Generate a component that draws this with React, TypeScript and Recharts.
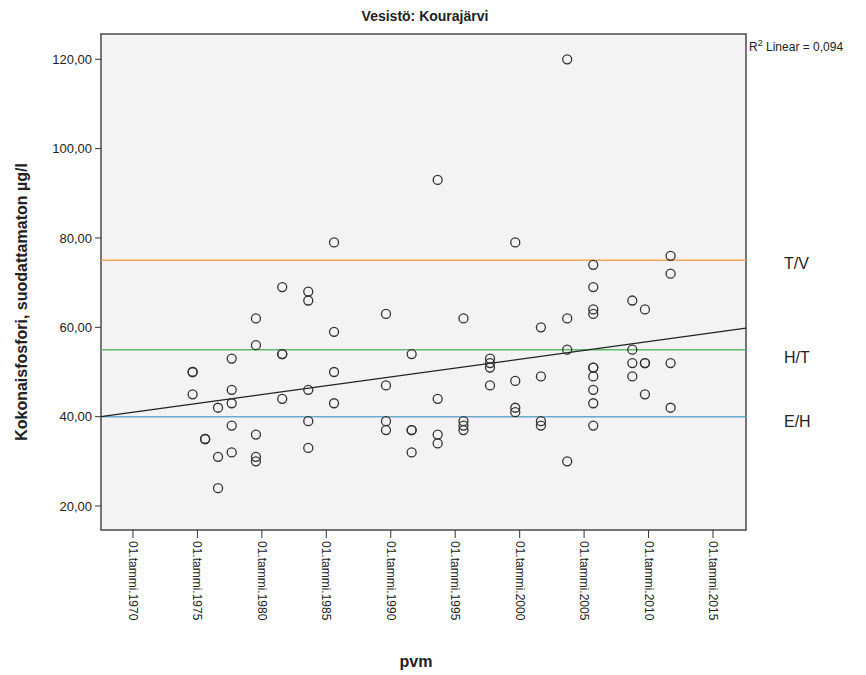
import {
  ScatterChart, Scatter, XAxis, YAxis, CartesianGrid, ReferenceLine, ReferenceArea, Label,
} from 'recharts'

const FONT = '"Liberation Sans", Arial, sans-serif'

// näytteenottovuosi (desimaalivuosi) ja kokonaisfosfori µg/l, luettu kuvasta
const sampleYear = [
  1974.63, 1974.63, 1974.63,
  1975.6, 1975.6,
  1976.6, 1976.6, 1976.6,
  1977.66, 1977.66, 1977.66, 1977.66, 1977.66,
  1979.54, 1979.54, 1979.54, 1979.54, 1979.54,
  1981.58, 1981.58, 1981.58, 1981.58,
  1983.6, 1983.6, 1983.6, 1983.6, 1983.6,
  1985.6, 1985.6, 1985.6, 1985.6,
  1989.63, 1989.63, 1989.63, 1989.63,
  1991.62, 1991.62, 1991.62, 1991.62,
  1993.64, 1993.64, 1993.64, 1993.64,
  1995.64, 1995.64, 1995.64, 1995.64,
  1997.7, 1997.7, 1997.7, 1997.7,
  1999.66, 1999.66, 1999.66, 1999.66,
  2001.65, 2001.65, 2001.65, 2001.65,
  2003.69, 2003.69, 2003.69, 2003.69,
  2005.71, 2005.71, 2005.71, 2005.71, 2005.71, 2005.71, 2005.71, 2005.71, 2005.71, 2005.71,
  2008.74, 2008.74, 2008.74, 2008.74,
  2009.72, 2009.72, 2009.72, 2009.72,
  2011.71, 2011.71, 2011.71, 2011.71,
]
const phosphorus = [
  50, 50, 45,
  35, 35,
  42, 31, 24,
  53, 46, 43, 38, 32,
  62, 56, 36, 31, 30,
  69, 54, 54, 44,
  68, 66, 46, 39, 33,
  79, 59, 50, 43,
  63, 47, 39, 37,
  54, 37, 37, 32,
  93, 44, 36, 34,
  62, 39, 38, 37,
  53, 52, 51, 47,
  79, 48, 42, 41,
  60, 49, 39, 38,
  120, 62, 55, 30,
  74, 69, 64, 63, 51, 51, 49, 46, 43, 38,
  66, 55, 52, 49,
  64, 52, 52, 45,
  76, 72, 52, 42,
]

// lineaarinen sovite (päätepisteet kuvasta)
const fitYear = [1967.52, 2017.56]
const fitValue = [40.0, 59.8]

// luokkarajat
const limitValue = [75, 55, 40]
const limitLabel = ['T/V', 'H/T', 'E/H']

const xTicks = [1970, 1975, 1980, 1985, 1990, 1995, 2000, 2005, 2010, 2015]
const yTicks = [20, 40, 60, 80, 100, 120]
const xDomain = [1967.52, 2017.56]
const yDomain = [14.63, 125.66]

const limitColor = ['#f7a64f', '#5cbd6b', '#6ba9c9']
const limitDy = [4, 9, 6]

const points = sampleYear.map((x, i) => ({ x, y: phosphorus[i] }))

function XTick({ x, y, payload }: any) {
  return (
    <text x={x} y={y} dy={4} transform={`rotate(90 ${x} ${y})`} fontSize={12} fontFamily={FONT} fill="#222">
      {`01.tammi.${payload.value}`}
    </text>
  )
}

function Ring({ cx, cy }: any) {
  return <circle cx={cx} cy={cy} r={4.5} fill="none" stroke="#333" strokeWidth={1.3} />
}

export default function App() {
  return (
    <div style={{ position: 'absolute', left: 0, top: 0, background: '#fff' }}>
      <ScatterChart width={866} height={675} margin={{ top: 34, right: 120, bottom: 0, left: 0 }}>
        <CartesianGrid horizontal={false} vertical={false} fill="#f5f2f6" />
        <XAxis
          type="number" dataKey="x" domain={xDomain} ticks={xTicks} allowDataOverflow
          height={145} tickSize={8} tickMargin={3} tick={<XTick />}
          axisLine={false} tickLine={{ stroke: '#333' }}
        >
          <Label
            content={() => (
              <text x={416} y={667} textAnchor="middle" fontSize={16} fontWeight="bold" fontFamily={FONT} fill="#222">pvm</text>
            )}
          />
        </XAxis>
        <YAxis
          type="number" dataKey="y" domain={yDomain} ticks={yTicks} allowDataOverflow
          width={101} tickSize={6} tickMargin={3}
          tick={{ fontSize: 13, fill: '#222', fontFamily: FONT }}
          tickFormatter={(v) => `${v},00`}
          axisLine={false} tickLine={{ stroke: '#333' }}
        >
          <Label
            content={() => (
              <text x={27} y={302} transform="rotate(-90 27 302)" textAnchor="middle" fontSize={16} fontWeight="bold" fontFamily={FONT} fill="#222">
                Kokonaisfosfori, suodattamaton µg/l
              </text>
            )}
          />
        </YAxis>
        {limitValue.map((v, i) => (
          <ReferenceLine
            key={limitLabel[i]} y={v} stroke={limitColor[i]} strokeWidth={1.5}
            label={({ viewBox }: any) => (
              <text x={viewBox.x + viewBox.width + 38} y={viewBox.y + limitDy[i]} dominantBaseline="middle" fontSize={16} fontFamily={FONT} fill="#222">
                {limitLabel[i]}
              </text>
            )}
          />
        ))}
        <ReferenceLine
          segment={[{ x: fitYear[0], y: fitValue[0] }, { x: fitYear[1], y: fitValue[1] }]}
          stroke="#222" strokeWidth={1.2}
        />
        <ReferenceArea
          x1={xDomain[0]} x2={xDomain[1]} y1={yDomain[0]} y2={yDomain[1]}
          fill="none" stroke="#4a4a4a" strokeWidth={1.5}
        />
        <Scatter data={points} shape={<Ring />} isAnimationActive={false} />
        <text x={425} y={21} textAnchor="middle" fontSize={14} fontWeight="bold" fontFamily={FONT} fill="#222">
          Vesistö: Kourajärvi
        </text>
        <text x={749} y={51} fontSize={12} fontFamily={FONT} fill="#222">
          R<tspan dy={-5} fontSize={9}>2</tspan><tspan dy={5}> Linear = 0,094</tspan>
        </text>
      </ScatterChart>
    </div>
  )
}
